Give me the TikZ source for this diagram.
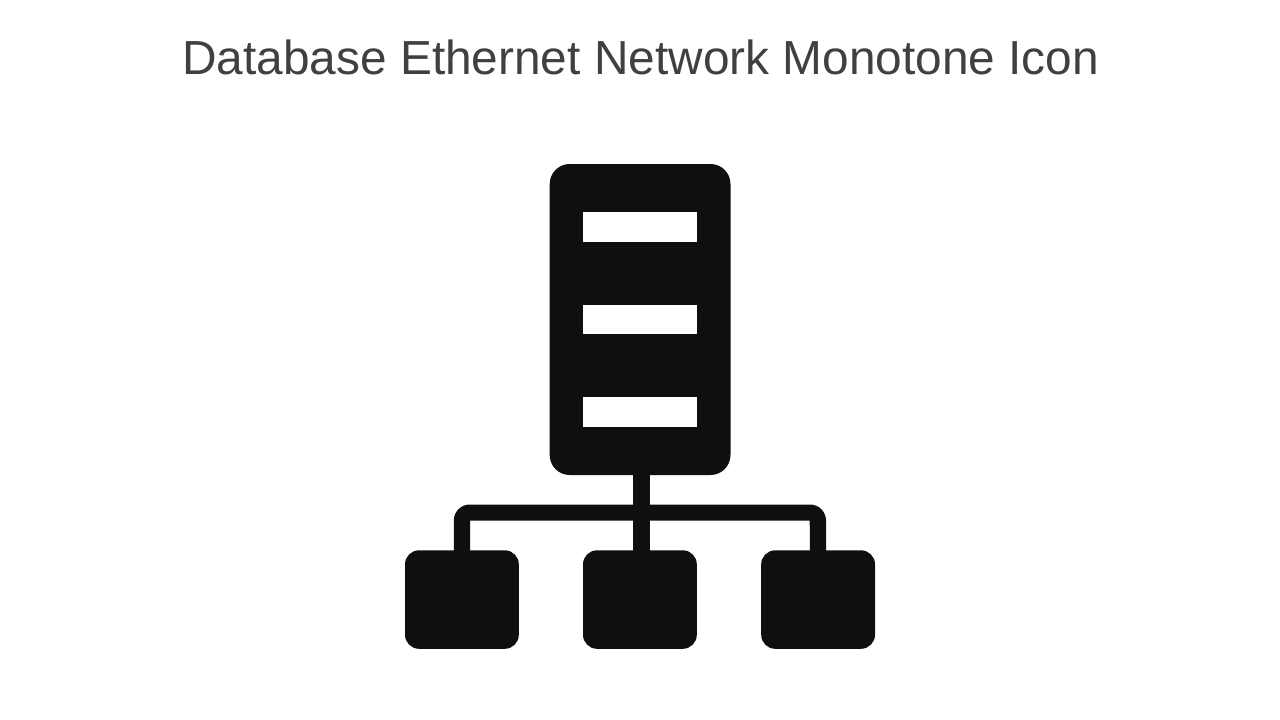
\documentclass[tikz,border=0pt]{standalone}
\usepackage{fontspec}
\setmainfont{Liberation Sans}
\definecolor{iconblack}{HTML}{0F0F0F}
\definecolor{titlegray}{HTML}{404040}
\tikzset{
	unitbox/.style={fill=iconblack, rounded corners=14pt},
	slotbox/.style={fill=white},
	wire/.style={fill=iconblack}
}
\begin{document}
\begin{tikzpicture}[x=1pt, y=-1pt]
		%%%%% START %%%%%
		\useasboundingbox (0, 0) rectangle (1280, 720);
		
		\node[text=titlegray, font=\fontsize{47.8}{54}\selectfont, anchor=center] (title) at (640.7, 57) {Database Ethernet Network Monotone Icon};
		
		\fill[unitbox, rounded corners=20pt] (549.7, 164) rectangle (730.5, 475);
		\fill[slotbox] (583, 212) rectangle (697, 241.5);
		\fill[slotbox] (583, 304.7) rectangle (697, 334);
		\fill[slotbox] (583, 397.3) rectangle (697, 426.8);
		
		\fill[wire] (632.5, 470) rectangle (649.5, 555);
		\fill[wire] (453.8, 555) [rounded corners=16pt] -- (453.8, 504.5) -- (826, 504.5) [sharp corners] -- (826, 555) -- (810, 555) -- (809.7, 520.7) -- (470, 520.7) -- (470, 555) -- cycle;
		
		\fill[unitbox] (405, 550.3) rectangle (518.8, 648.8);
		\fill[unitbox] (583, 550.3) rectangle (696.8, 648.8);
		\fill[unitbox] (761.2, 550.3) rectangle (875, 648.8);
		%%%%% END %%%%%
	\end{tikzpicture}
\end{document}
